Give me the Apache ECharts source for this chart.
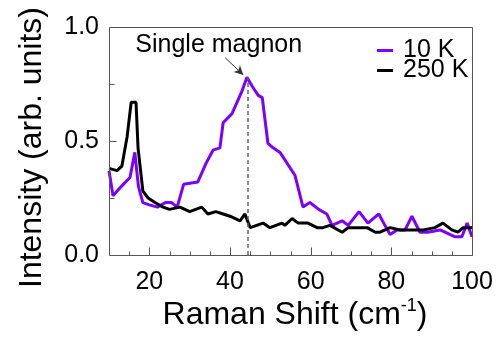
<!DOCTYPE html>
<html>
<head>
<meta charset="utf-8">
<script src="https://cdn.jsdelivr.net/npm/echarts@6/dist/echarts.min.js"></script>
<style>
  html, body { margin: 0; padding: 0; background: #fff; }
  #chart { width: 504px; height: 341px; }
</style>
</head>
<body>
<div id="chart"></div>
<script>
// 10 K spectrum
const shift10 = [10, 11, 13, 15.2, 16.4, 17.3, 18.4, 20, 22, 24, 25.5, 26.9, 28.5, 32, 34, 35.8, 37.5, 38.3, 40.5, 43, 44.2, 45.5, 47, 48, 49.4, 50.7, 52.4, 56.1, 58.1, 59.8, 62, 64, 65.3, 67.8, 69.3, 72, 74.2, 76.9, 78.4, 79.7, 81.4, 83.4, 85.1, 87.1, 89, 92.1, 94.5, 95.8, 97.5, 98.8, 100];
const int10 = [0.37, 0.26, 0.30, 0.34, 0.45, 0.30, 0.23, 0.22, 0.21, 0.23, 0.23, 0.21, 0.31, 0.32, 0.40, 0.46, 0.47, 0.58, 0.62, 0.72, 0.78, 0.74, 0.70, 0.69, 0.49, 0.47, 0.45, 0.35, 0.21, 0.23, 0.20, 0.18, 0.13, 0.15, 0.13, 0.19, 0.14, 0.18, 0.13, 0.09, 0.11, 0.11, 0.17, 0.10, 0.10, 0.11, 0.09, 0.08, 0.08, 0.14, 0.08];

// 250 K spectrum
const shift250 = [10, 12, 13.2, 14.5, 15.5, 16.7, 17.2, 18.4, 19.7, 21.4, 23.4, 25, 27.6, 30, 33, 34.5, 36.5, 38.3, 40, 42.5, 43.7, 45, 48.2, 49.9, 52.9, 53.6, 55.4, 56.9, 59.3, 61.6, 63, 64.8, 67.8, 69.3, 72, 74, 76, 77.2, 79.7, 82.2, 85.4, 87.9, 90.8, 92.8, 95, 96.5, 97.8, 100];
const int250 = [0.38, 0.37, 0.39, 0.52, 0.67, 0.67, 0.47, 0.28, 0.25, 0.23, 0.21, 0.20, 0.21, 0.19, 0.21, 0.18, 0.19, 0.18, 0.17, 0.15, 0.18, 0.12, 0.14, 0.12, 0.14, 0.13, 0.16, 0.14, 0.14, 0.12, 0.12, 0.13, 0.10, 0.12, 0.12, 0.12, 0.10, 0.10, 0.12, 0.11, 0.11, 0.11, 0.12, 0.14, 0.11, 0.10, 0.12, 0.12];

// ticks
const xLabels = [20, 40, 60, 80, 100];
const xMinor = [15, 25, 30, 35, 45, 50, 55, 65, 70, 75, 85, 90, 95];
const yMajor = [0.5];
const yMinor = [0.25, 0.75];

const peak = [44.4, 0.78];
const arrowFrom = [38.8, 0.865];
const arrowTo = [43.3, 0.79];
const noteAt = [37.2, 0.92];

const font = "'Liberation Sans', Arial, sans-serif";
const frame = "#555";

const chart = echarts.init(document.getElementById("chart"));
chart.setOption({
  animation: false,
  grid: { left: 109, right: 32, top: 27, bottom: 86, outerBoundsMode: "none" },
  legend: {
    orient: "vertical",
    left: 372,
    top: 33,
    itemWidth: 16,
    itemHeight: 3,
    itemGap: -5,
    icon: "rect",
    textStyle: { fontFamily: font, fontSize: 25, color: "#000", padding: [0, 0, 0, 5] },
    data: ["10 K", "250 K"],
  },
  xAxis: {
    type: "value",
    min: 10,
    max: 100,
    axisLine: { show: false },
    axisTick: { show: false },
    axisLabel: { customValues: xLabels, fontFamily: font, fontSize: 25, color: "#000", margin: 15 },
    splitLine: { show: false },
  },
  yAxis: {
    type: "value",
    min: 0,
    max: 1,
    interval: 0.5,
    axisLine: { show: false },
    axisTick: { show: false },
    axisLabel: {
      fontFamily: font,
      fontSize: 25,
      color: "#000",
      margin: 10,
      formatter: (v) => v.toFixed(1),
    },
    splitLine: { show: false },
  },
  series: [
    {
      name: "10 K",
      type: "line",
      data: shift10.map((x, i) => [x, int10[i]]),
      showSymbol: false,
      symbol: "none",
      lineStyle: { color: "#7b00ff", width: 3 },
      itemStyle: { color: "#7b00ff" },
      markLine: {
        silent: true,
        symbol: ["none", "none"],
        label: { show: false },
        data: [
          [
            { coord: [peak[0], 0], lineStyle: { color: "#666", width: 1.5, type: [4, 3] } },
            { coord: peak },
          ],
          [
            { coord: arrowFrom, lineStyle: { color: "#333", width: 1, type: "solid" } },
            { coord: arrowTo, symbol: "arrow", symbolSize: [7, 9] },
          ],
        ],
      },
      markPoint: {
        silent: true,
        symbol: "rect",
        symbolSize: 1,
        itemStyle: { color: "rgba(0,0,0,0)" },
        label: {
          show: true,
          position: "inside",
          formatter: "Single magnon",
          fontFamily: font,
          fontSize: 25,
          color: "#000",
        },
        data: [{ coord: noteAt }],
      },
    },
    {
      name: "250 K",
      type: "line",
      data: shift250.map((x, i) => [x, int250[i]]),
      showSymbol: false,
      symbol: "none",
      lineStyle: { color: "#000", width: 3 },
      itemStyle: { color: "#000" },
    },
  ],
});

// frame, ticks and axis titles, placed through the axis scales
const px = (v) => chart.convertToPixel({ xAxisIndex: 0 }, v);
const py = (v) => chart.convertToPixel({ yAxisIndex: 0 }, v);
const crisp = (v) => Math.round(v) + 0.5;
const x0 = crisp(px(10)), x1 = crisp(px(100));
const y0 = crisp(py(0)), y1 = crisp(py(1));
const stroke = { stroke: frame, lineWidth: 1 };

const marks = [
  { type: "rect", silent: true, z: 50, shape: { x: x0, y: y1, width: x1 - x0, height: y0 - y1 }, style: { fill: null, ...stroke } },
];
xLabels.forEach((v) => marks.push({ type: "line", silent: true, z: 50, shape: { x1: crisp(px(v)), y1: y0, x2: crisp(px(v)), y2: y0 - 8 }, style: stroke }));
xMinor.forEach((v) => marks.push({ type: "line", silent: true, z: 50, shape: { x1: crisp(px(v)), y1: y0, x2: crisp(px(v)), y2: y0 - 4 }, style: stroke }));
yMajor.forEach((v) => marks.push({ type: "line", silent: true, z: 50, shape: { x1: x0, y1: crisp(py(v)), x2: x0 + 7, y2: crisp(py(v)) }, style: stroke }));
yMinor.forEach((v) => marks.push({ type: "line", silent: true, z: 50, shape: { x1: x0, y1: crisp(py(v)), x2: x0 + 5, y2: crisp(py(v)) }, style: stroke }));

marks.push(
  {
    type: "text",
    x: 32,
    y: (y0 + y1) / 2 + 6,
    rotation: Math.PI / 2,
    silent: true,
    style: {
      text: "Intensity (arb. units)",
      fontFamily: font,
      fontSize: 32,
      fill: "#000",
      align: "center",
      verticalAlign: "middle",
    },
  },
  {
    type: "text",
    x: (x0 + x1) / 2 + 4,
    y: 315,
    silent: true,
    style: {
      text: "{a|Raman Shift (cm}{s|-1}{a|)}",
      align: "center",
      verticalAlign: "middle",
      rich: {
        a: { fontFamily: font, fontSize: 32, fill: "#000", lineHeight: 36 },
        s: { fontFamily: font, fontSize: 18, fill: "#000", verticalAlign: "top", lineHeight: 36 },
      },
    },
  }
);

chart.setOption({ graphic: marks });
</script>
</body>
</html>
